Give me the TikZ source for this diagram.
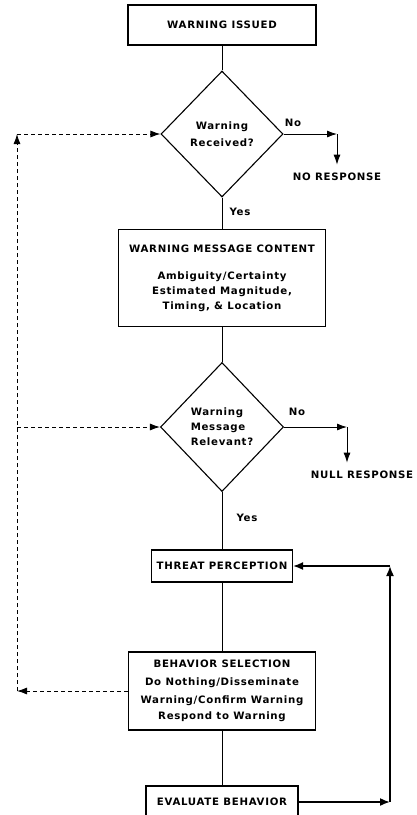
\documentclass[tikz,border=0pt]{standalone}
\usepackage{fontspec}
\setmainfont{DejaVu Sans}[LetterSpace=7]
\usetikzlibrary{positioning, arrows.meta, shapes.geometric}

\begin{document}
\begin{tikzpicture}[
  x=1pt, y=-1pt,
  every node/.style={font=\bfseries\fontsize{10.2}{17}\selectfont},
  box/.style={rectangle, draw, line width=1.1pt, inner sep=0pt, align=center},
  decision/.style={diamond, draw, line width=1.1pt, inner sep=0pt, align=center},
  flow/.style={line width=0.9pt},
  tip/.style={line width=0.9pt, -{Latex[length=10pt,width=7pt]}},
  feedback/.style={line width=0.9pt, dash pattern=on 4pt off 3pt,
                   -{Latex[length=10pt,width=7pt]}},
  loopline/.style={line width=1.6pt, -{Latex[length=10pt,width=8pt]}},
]
  \useasboundingbox (0,0) rectangle (416,815);

  \node[box, minimum width=188pt, minimum height=40pt] (issued) at (222,25) {WARNING ISSUED};
  \node[decision, minimum width=122pt, minimum height=126pt] (received) at (222,134)
    {Warning\\Received?};
  \node[box, minimum width=207pt, minimum height=97pt] (content) at (222,278)
    {WARNING MESSAGE CONTENT\\[10pt]Ambiguity/Certainty\\[-2pt]Estimated Magnitude,\\[-2pt]Timing, \& Location};
  \node[decision, minimum width=123pt, minimum height=129pt, align=left] (relevant) at (222,427)
    {Warning\\[-2pt]Message\\[-2pt]Relevant?};
  \node[box, minimum width=141pt, minimum height=32pt] (threat) at (222,566) {THREAT PERCEPTION};
  \node[box, minimum width=187pt, minimum height=78pt] (select) at (222,691)
    {BEHAVIOR SELECTION\\[1pt]Do Nothing/Disseminate\\[1pt]Warning/Confirm Warning\\[-1pt]Respond to Warning};
  \node[box, minimum width=152pt, minimum height=32pt] (evaluate) at (222,802) {EVALUATE BEHAVIOR};

  \node (no1) at (293,123) {No};
  \node (yes1) at (240,212) {Yes};
  \node (noresp) at (337,177) {NO RESPONSE};
  \node (no2) at (297,412) {No};
  \node (yes2) at (247,518) {Yes};
  \node (nullresp) at (362,475) {NULL RESPONSE};

  \coordinate (noturn1) at (337,134);
  \coordinate (noturn2) at (347,427);
  \coordinate (fbcorner) at (17,691);
  \coordinate (fbtop) at (17,134);
  \coordinate (fbmid) at (17,427);
  \coordinate (loopbot) at (390,802);
  \coordinate (looptop) at (390,566);

  \draw[flow] (issued) -- (received);
  \draw[flow] (received) -- (content);
  \draw[flow] (content) -- (relevant);
  \draw[flow] (relevant) -- (threat);
  \draw[flow] (threat) -- (select);
  \draw[flow] (select) -- (evaluate);

  \draw[tip] (received.east) -- (noturn1);
  \draw[tip, shorten >=5pt] (noturn1) -- (noturn1 |- noresp.north);
  \draw[tip] (relevant.east) -- (noturn2);
  \draw[tip, shorten >=5pt] (noturn2) -- (noturn2 |- nullresp.north);

  \draw[feedback] (select.west) -- (fbcorner);
  \draw[feedback] (fbcorner) -- (fbtop);
  \draw[feedback] (fbtop) -- (received.west);
  \draw[feedback] (fbmid) -- (relevant.west);

  \draw[loopline] (evaluate.east) -- (loopbot);
  \draw[loopline] (loopbot) -- (looptop);
  \draw[loopline] (looptop) -- (threat.east);
\end{tikzpicture}
\end{document}
